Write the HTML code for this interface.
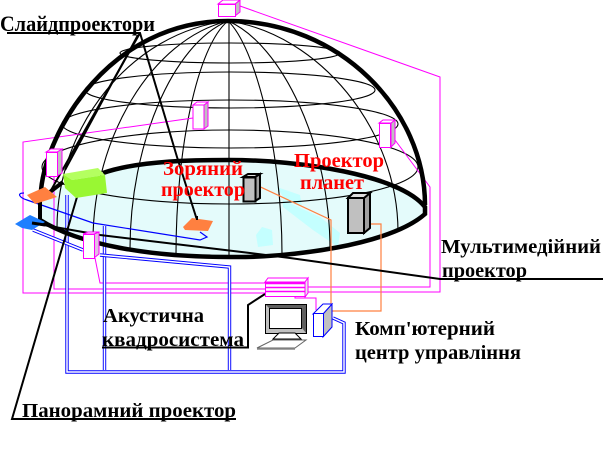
<!DOCTYPE html>
<html><head><meta charset="utf-8"><style>
html,body{margin:0;padding:0;background:#fff}
svg{display:block}
text{font-family:"Liberation Serif","Noto Serif CJK SC",serif;font-weight:bold;font-size:20px;fill:#000}
.r{fill:#f00}
.m{fill:none;stroke:#000;stroke-width:1.100}
.p{fill:none;stroke:#f0f;stroke-width:1}
.bo{fill:none;stroke:#00f;stroke-width:3.400}
.bi{fill:none;stroke:#fff;stroke-width:1.500}
.l{fill:none;stroke:#000;stroke-width:2}
.t{fill:none;stroke:#000;stroke-width:4.500}
.o{fill:none;stroke:#ff8040;stroke-width:1.200}
</style></head><body>
<svg width="603" height="455" viewBox="0 0 603 455" xmlns="http://www.w3.org/2000/svg">
<rect width="603" height="455" fill="#fff"/>
<!-- floor -->
<path d="M40,205 C50,190 70,180 103,173 C140,160 200,160 230,160 C300,160 400,175 425,207 L425,214 C390,245 290,258 230,257 C150,257 80,245 40,220Z" fill="#e4fbfb"/>
<path d="M283,200 L320,217 L340,233 L338,247 L313,230 L283,207Z" fill="#c4ffff"/>
<path d="M277,187 L300,195 L302,207 L285,200Z" fill="#c4ffff"/>
<path d="M262,227 L272,230 L273,245 L258,247 L256,235Z" fill="#c4ffff"/>
<!-- meridians and parallels -->
<g class="m">
<path d="M228,21 C152,39 93,138 93,241"/>
<path d="M228,21 C172,44 130,146 130,249"/>
<path d="M228,21 C197,46 176,151 176,254"/>
<path d="M229,21 L229,256"/>
<path d="M228,21 C255,46 282,151 282,254"/>
<path d="M228,21 C282,44 330,146 330,249"/>
<path d="M228,21 C319,34 398,129 398,232"/>
<path d="M228,21 C132,32 57,125 57,228"/>
<ellipse cx="230" cy="53" rx="110" ry="10"/>
<ellipse cx="230" cy="90" rx="145" ry="18"/>
<ellipse cx="230" cy="124" rx="168" ry="24"/>
<ellipse cx="230" cy="167" rx="188" ry="37"/>
</g>
<!-- magenta wiring -->
<g class="p">
<path d="M193,118 L23,142 L23,293 L265,293"/>
<path d="M240,6 L440,77 L440,292 L306,292"/>
<path d="M395,140 L430,187 L430,287 L306,287"/>
<path d="M54,176 L54,289 L265,289"/>
<path d="M95,258 L100,283 L265,283"/>
<path d="M295,291 L295,298 L316,298 L316,310"/>
</g>
<!-- blue wiring -->
<g>
<path class="bo" d="M67,195 L67,372 L344,372 L344,323 L333,318"/>
<path class="bi" d="M67,195 L67,372 L344,372 L344,323 L333,318"/>
<path class="bo" d="M104.500,226 L104.500,370"/>
<path class="bi" d="M104.500,226 L104.500,370"/>
<path class="bo" d="M229.500,370 L229.500,267 L100,255"/>
<path class="bi" d="M229.500,370 L229.500,267 L100,255"/>
<path class="bo" d="M83,250 L33,230"/>
<path class="bi" d="M83,250 L33,230"/>
<path d="M27,200 C20,198 16,193 24,193 M27,200 L93,223 L200,240 L207,237 L200,232" fill="none" stroke="#00f" stroke-width="1.200"/>
</g>
<!-- thick dome and ring -->
<path class="t" d="M41,190 C47,130 110,21 228,21 C340,21 425,110 425,205"/>
<path d="M103,173 C140,160 200,160 230,160 C300,160 400,175 425,207 L425,214 C390,245 290,258 230,257 C150,257 80,245 40,220" fill="none" stroke="#000" stroke-width="4.500"/>
<path d="M40,190 L40,222" fill="none" stroke="#000" stroke-width="4"/>
<!-- orange wiring -->
<g class="o">
<path d="M252,183 L331,220 L331,311 L381,311 L381,224 L365,224"/>
</g>
<!-- leader lines -->
<g class="l">
<path d="M7,33 L140,33 L177,157 L197,220"/>
<path d="M140,33 L50,192"/>
<path d="M138,35 L65,170"/>
<path d="M77,197 L12,419 L236,419"/>
<path d="M32,223 L100,235 L250,253 L290,258 L440,279 L603,279"/>
<path d="M102,347.500 L248,347.500 L248,305 L265,294"/>
</g>
<path d="M50,192 L63,182" stroke="#000" stroke-width="4" fill="none"/>
<!-- magenta speakers -->
<g stroke="#f0f" stroke-width="1">
<path d="M235,4 L240,0 L240,12 L235,16Z" fill="#c0c0c0"/><path d="M218,4 L223,0 L240,0 L235,4Z" fill="#fff"/><rect x="218.500" y="4.500" width="17" height="12" fill="#fff"/>
<path d="M204,105 L208,102 L208,126 L204,129Z" fill="#c0c0c0"/><path d="M193,105 L197,102 L208,102 L204,105Z" fill="#fff"/><rect x="193" y="105" width="11" height="24" fill="#fff"/>
<path d="M391,123 L395,120 L395,143 L391,147Z" fill="#c0c0c0"/><path d="M379,123 L383,120 L395,120 L391,123Z" fill="#fff"/><rect x="379.500" y="123.500" width="11" height="24" fill="#fff"/>
<path d="M57,152 L62,149 L62,173 L57,176Z" fill="#c0c0c0"/><path d="M46,152 L51,149 L62,149 L57,152Z" fill="#fff"/><rect x="46.500" y="152.500" width="11" height="24" fill="#fff"/>
<path d="M94,234 L99,232 L99,254 L94,258Z" fill="#e0c0e0"/><path d="M83,234 L88,232 L99,232 L94,234Z" fill="#fff"/><rect x="83.500" y="234.500" width="11" height="24" fill="#fff"/>
</g>
<!-- projectors -->
<path d="M27,195 L45,187 L57,197 L35,204Z" fill="#ff8040"/>
<path d="M183,227 L192,218 L213,221 L208,231 L185,230Z" fill="#ff8040"/>
<path d="M15,224 L30,215 L45,222 L32,230 L22,228Z" fill="#1f7fff"/>
<path d="M63,174 L98,168 L105,175 L72,180Z" fill="#b4ff60"/>
<path d="M72,180 L105,175 L107,193 L76,198 L65,188 L63,174Z" fill="#99f733"/>
<path d="M197,220 L197,216" stroke="#000" stroke-width="2"/>
<path d="M32,223 L45,225" stroke="#000" stroke-width="3"/>
<!-- grey towers -->
<g stroke="#000" stroke-width="2" fill="#c0c0c0">
<path d="M255,177 L260,174 L260,198 L255,201Z" fill="#a0a0a0"/>
<path d="M243,177 L248,174 L260,174 L255,177Z" fill="#ddd"/>
<rect x="243.500" y="177.500" width="12" height="24"/>
<path d="M364,198 L370,193 L370,228 L364,233Z" fill="#a0a0a0"/>
<path d="M348,198 L353,193 L370,193 L364,198Z" fill="#ddd"/>
<rect x="348" y="198" width="16" height="35"/>
</g>
<!-- multi-box -->
<g stroke="#f0f" fill="#fff">
<path d="M265,282 L268,278 L308,278 L305,282Z"/>
<rect x="265.500" y="282.500" width="40" height="14"/>
<path d="M305,282 L308,278 L308,293 L305,297Z" fill="#e8e8e8"/>
<path d="M265,283.500 H305 M265,287.500 H305 M265,291.500 H305" stroke-width="1.500"/>
</g>
<!-- computer -->
<rect x="265.500" y="304.500" width="41" height="29" fill="#c0c0c0" stroke="#000"/>
<path d="M266,305 H306 L302,308 H269Z" fill="#606060"/>
<path d="M302,308 L306,305 V333 L302,328Z" fill="#606060"/>
<rect x="269.500" y="308.500" width="32" height="20" fill="#fff" stroke="#000"/>
<path d="M279,333 L273,339 H301 L295,333Z" fill="#fff" stroke="#000"/>
<path d="M257,348 L273,340 H306 L295,348Z" fill="#fff" stroke="#666"/>
<path d="M257,349 H295" stroke="#888" stroke-width="1.500"/>
<!-- tower -->
<path d="M323,314 L332,304 V327 L323,337Z" fill="#c0c0c0" stroke="#00f"/>
<path d="M313,314 L323,304 H332 L323,314Z" fill="#fff" stroke="#00f"/>
<rect x="313.500" y="313.500" width="10" height="23" fill="#fff" stroke="#00f"/>
<!-- labels -->
<text x="0" y="31" style="font-size:22px" textLength="155" lengthAdjust="spacingAndGlyphs">Слайдпроектори</text>
<text class="r" x="163" y="175" textLength="80" lengthAdjust="spacingAndGlyphs">Зоряний</text>
<text class="r" x="161" y="196" textLength="84" lengthAdjust="spacingAndGlyphs">проектор</text>
<text class="r" x="294" y="167" textLength="90" lengthAdjust="spacingAndGlyphs">Проектор</text>
<text class="r" x="300" y="189" textLength="64" lengthAdjust="spacingAndGlyphs">планет</text>
<text x="441" y="253" textLength="160" lengthAdjust="spacingAndGlyphs">Мультимедійний</text>
<text x="442" y="277" textLength="85" lengthAdjust="spacingAndGlyphs">проектор</text>
<text x="103" y="322" textLength="101" lengthAdjust="spacingAndGlyphs">Акустична</text>
<text x="102" y="346" textLength="142" lengthAdjust="spacingAndGlyphs">квадросистема</text>
<text x="355" y="335" textLength="140" lengthAdjust="spacingAndGlyphs">Комп'ютерний</text>
<text x="355" y="359" textLength="166" lengthAdjust="spacingAndGlyphs">центр управління</text>
<text x="22" y="417" textLength="214" lengthAdjust="spacingAndGlyphs">Панорамний проектор</text>
</svg>
</body></html>
